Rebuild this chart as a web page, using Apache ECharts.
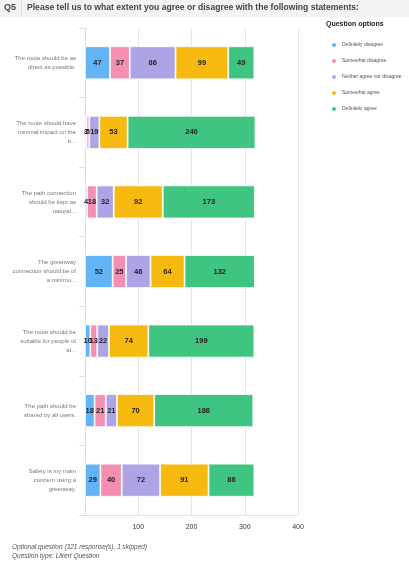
<!DOCTYPE html>
<html>
<head>
<meta charset="utf-8">
<script src="https://cdn.jsdelivr.net/npm/echarts@6/dist/echarts.min.js"></script>
<style>html,body{margin:0;padding:0;background:#fff}#main{width:409px;height:567px}</style>
</head>
<body>
<div id="main"></div>
<script>
// 题目与分类
let questions=['The route should be as\ndirect as possible.','The route should have\nminimal impact on the\nb...','The path connection\nshould be kept as\nnatural...','The greenway\nconnection should be of\na minimu...','The route should be\nsuitable for people of\nal...','The path should be\nshared by all users.','Safety is my main\nconcern using a\ngreenway.'];
let options=['Definitely disagree','Somewhat disagree','Neither agree nor disagree','Somewhat agree','Definitely agree'];
let colors=['#63b3f5','#f48fb1','#ada4e6','#f5b90f','#3fc481'];
// 每个选项的人数
let defDisagree=[47,3,4,52,10,18,29];
let someDisagree=[37,5,18,25,13,21,40];
let neither=[86,19,32,46,22,21,72];
let someAgree=[99,53,92,64,74,70,91];
let defAgree=[49,240,173,132,199,186,86];
let xTicks=[0,100,200,300,400];

let allData=[defDisagree,someDisagree,neither,someAgree,defAgree];
let series=options.map(function(name,i){
  return {
    name:name,type:'bar',stack:'all',barWidth:33,
    data:allData[i],
    itemStyle:{color:colors[i],borderColor:'#fff',borderWidth:0.8},
    label:{show:true,color:'#222',fontSize:7.5,fontWeight:'bold',fontFamily:'Liberation Sans'}
  };
});

var myChart=echarts.init(document.getElementById('main'));
myChart.setOption({
  animation:false,
  graphic:[
    {type:'rect',shape:{x:0,y:0,width:409,height:17},style:{fill:'#f3f3f3'}},
    {type:'rect',shape:{x:21,y:0,width:1,height:17},style:{fill:'#dddddd'}},
    {type:'text',left:4,top:3,style:{text:'Q5',font:'bold 9px Liberation Sans',fill:'#444'}},
    {type:'text',left:27,top:3,style:{text:'Please tell us to what extent you agree or disagree with the following statements:',font:'bold 8.6px Liberation Sans',fill:'#444'}},
    {type:'text',left:326,top:21,style:{text:'Question options',font:'bold 7px Liberation Sans',fill:'#222'}},
    {type:'text',left:12,top:543,style:{text:'Optional question (321 response(s), 1 skipped)\nQuestion type: Likert Question',font:'italic 6.5px Liberation Sans',fill:'#555',lineHeight:9}}
  ],
  legend:{
    orient:'vertical',left:325,top:36,itemWidth:6,itemHeight:6,itemGap:8,icon:'circle',
    textStyle:{fontSize:5,color:'#555',fontFamily:'Liberation Sans'},
    data:options
  },
  grid:{left:85,right:111,top:28,bottom:52},
  xAxis:{
    type:'value',min:0,max:400,interval:100,
    axisLine:{show:true,lineStyle:{color:'#dde3ea'}},
    axisTick:{show:false},
    splitLine:{lineStyle:{color:'#e6e6e6'}},
    axisLabel:{color:'#333',fontSize:7,margin:9,fontFamily:'Liberation Sans',formatter:function(v){return v===0?'':v;}}
  },
  yAxis:{
    type:'category',inverse:true,data:questions,
    axisLine:{lineStyle:{color:'#d4e0ee'}},
    axisTick:{show:true,length:6,lineStyle:{color:'#d4e0ee'}},
    axisLabel:{color:'#777',fontSize:6,lineHeight:9,margin:9,align:'right',fontFamily:'Liberation Sans'}
  },
  series:series
});
</script>
</body>
</html>
